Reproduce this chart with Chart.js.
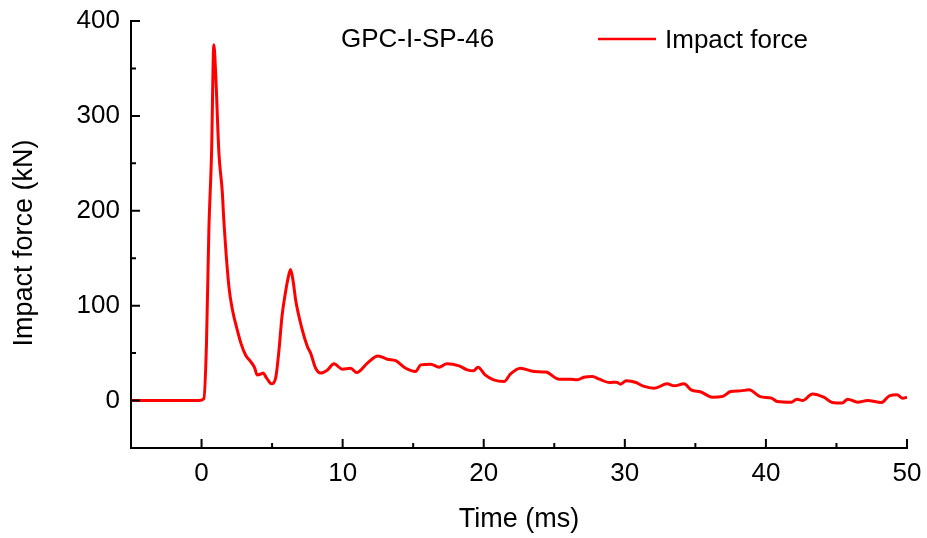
<!DOCTYPE html>
<html>
<head>
<meta charset="utf-8">
<script src="https://cdn.jsdelivr.net/npm/chart.js@4.4.1/dist/chart.umd.min.js"></script>
<style>
  html, body { margin: 0; padding: 0; background: #fff; }
  #wrap { width: 927px; height: 538px; }
</style>
</head>
<body>
<div id="wrap"><canvas id="forceChart"></canvas></div>
<script>
// Time (ms) and impact force (kN)
const timeMs = [-5, -2, -0.2, 0.16, 0.35, 0.52, 0.71, 0.87, 1.0, 1.23, 1.47, 1.58, 1.94, 2.2, 2.53, 2.8, 3.12, 3.48, 3.75, 3.95, 4.2, 4.37, 4.6, 4.96, 5.25, 5.5, 5.7, 5.96, 6.15, 6.31, 6.5, 6.67, 7.14, 7.5, 7.73, 8.09, 8.44, 8.91, 9.38, 9.98, 10.57, 11.0, 11.75, 12.5, 13.17, 13.76, 14.47, 15.18, 15.53, 16.24, 16.83, 17.38, 18.25, 18.84, 19.27, 19.6, 20.1, 20.7, 21.44, 21.9, 22.6, 23.57, 24.4, 25.35, 26.17, 26.6, 27.1, 27.7, 28.2, 28.9, 29.4, 29.7, 30.1, 30.8, 31.26, 32.1, 33.0, 33.5, 34.2, 34.7, 35.4, 36.2, 36.9, 37.5, 38.2, 38.8, 39.6, 40.4, 40.8, 41.8, 42.2, 42.6, 43.3, 44.1, 44.7, 45.4, 45.8, 46.5, 47.2, 48.2, 48.75, 49.3, 49.7, 50.0];
const impactForce = [0, 0, 0, 2, 60, 180, 261, 375, 345, 261, 220, 190, 120, 95, 74.5, 60, 48, 41, 35, 27, 28, 29, 24, 17.6, 23.6, 55, 88.5, 115, 130, 138, 125, 106, 74.5, 57, 50, 34, 29, 32, 38.7, 33, 34, 29.5, 39.4, 47, 43.6, 42, 34, 30.6, 37.6, 38.3, 35.2, 38.7, 36.6, 32.3, 31.3, 35.2, 27, 21.8, 20, 28, 34, 30.6, 30, 22.5, 22.5, 21.8, 24.6, 25.3, 22.5, 19, 19.4, 17.3, 20.8, 19, 15.5, 13, 17.6, 15.5, 17.6, 11.3, 9, 3.6, 4.2, 9.5, 10.2, 11.3, 4.2, 2.5, -1, -1.7, 1.5, 0, 7, 3.6, -2, -2.7, 1.5, -1.7, 0, -2, 5, 6, 2.5, 3.6];

const xTicks = [0, 10, 20, 30, 40, 50];
const xMinorTicks = [5, 15, 25, 35, 45];
const yTicks = [0, 100, 200, 300, 400];
const yMinorTicks = [50, 150, 250, 350];

const specimenLabel = 'GPC-I-SP-46';
const seriesLabel = 'Impact force';

const FONT = "'Liberation Sans', Arial, sans-serif";

// inward tick marks, specimen label, legend and y title
const decorPlugin = {
    id: 'decor',
    afterDraw(chart) {
        const ctx = chart.ctx;
        const xs = chart.scales.x;
        const ys = chart.scales.y;
        const area = chart.chartArea;
        ctx.save();
        ctx.strokeStyle = '#000';
        ctx.lineWidth = 2;
        ctx.beginPath();
        xTicks.forEach(v => {
            const px = xs.getPixelForValue(v);
            ctx.moveTo(px, area.bottom); ctx.lineTo(px, area.bottom - 9);
        });
        xMinorTicks.forEach(v => {
            const px = xs.getPixelForValue(v);
            ctx.moveTo(px, area.bottom); ctx.lineTo(px, area.bottom - 5);
        });
        yTicks.forEach(v => {
            const py = ys.getPixelForValue(v);
            ctx.moveTo(area.left, py); ctx.lineTo(area.left + 9, py);
        });
        yMinorTicks.forEach(v => {
            const py = ys.getPixelForValue(v);
            ctx.moveTo(area.left, py); ctx.lineTo(area.left + 5, py);
        });
        ctx.stroke();

        // specimen name
        ctx.fillStyle = '#000';
        ctx.font = '26px ' + FONT;
        ctx.textBaseline = 'alphabetic';
        ctx.textAlign = 'left';
        ctx.fillText(specimenLabel, 341, 47);

        // legend
        ctx.strokeStyle = '#ff0000';
        ctx.lineWidth = 2.5;
        ctx.beginPath();
        ctx.moveTo(598, 39); ctx.lineTo(656, 39);
        ctx.stroke();
        ctx.fillText(seriesLabel, 665, 48);

        // y axis title
        ctx.font = '27px ' + FONT;
        ctx.translate(25, 243);
        ctx.rotate(-Math.PI / 2);
        ctx.textAlign = 'center';
        ctx.textBaseline = 'middle';
        ctx.fillText('Impact force (kN)', 0, 0);
        ctx.restore();
    }
};

document.addEventListener('DOMContentLoaded', function() {
    const ctx = document.getElementById('forceChart').getContext('2d');
    new Chart(ctx, {
        type: 'line',
        data: {
            datasets: [{
                label: seriesLabel,
                data: timeMs.map((t, i) => ({ x: t, y: impactForce[i] })),
                borderColor: '#ff0000',
                borderWidth: 3,
                pointRadius: 0,
                cubicInterpolationMode: 'monotone',
                fill: false
            }]
        },
        options: {
            responsive: true,
            maintainAspectRatio: false,
            animation: false,
            layout: {
                padding: { top: 21, right: 20, left: 0, bottom: 0 }
            },
            plugins: {
                legend: { display: false },
                title: { display: false },
                tooltip: { enabled: false }
            },
            scales: {
                x: {
                    type: 'linear',
                    min: -5,
                    max: 50,
                    afterBuildTicks: (scale) => { scale.ticks = xTicks.map(v => ({ value: v })); },
                    afterFit: (scale) => {
                        scale.height = 90;
                        scale.paddingLeft = 0;
                        scale.paddingRight = 0;
                    },
                    grid: { drawOnChartArea: false, drawTicks: false },
                    border: { display: true, color: '#000', width: 2 },
                    ticks: {
                        color: '#000',
                        padding: 10,
                        maxRotation: 0,
                        font: { family: FONT, size: 26 }
                    },
                    title: {
                        display: true,
                        text: 'Time (ms)',
                        color: '#000',
                        padding: { top: 0, bottom: 2 },
                        font: { family: FONT, size: 27 }
                    }
                },
                y: {
                    type: 'linear',
                    min: -50,
                    max: 400,
                    afterBuildTicks: (scale) => { scale.ticks = yTicks.map(v => ({ value: v })); },
                    afterFit: (scale) => {
                        scale.width = 131;
                        scale.paddingTop = 0;
                        scale.paddingBottom = 0;
                    },
                    grid: { drawOnChartArea: false, drawTicks: false },
                    border: { display: true, color: '#000', width: 2 },
                    ticks: {
                        color: '#000',
                        padding: 11,
                        font: { family: FONT, size: 26 }
                    }
                }
            }
        },
        plugins: [decorPlugin]
    });
});
</script>
</body>
</html>
